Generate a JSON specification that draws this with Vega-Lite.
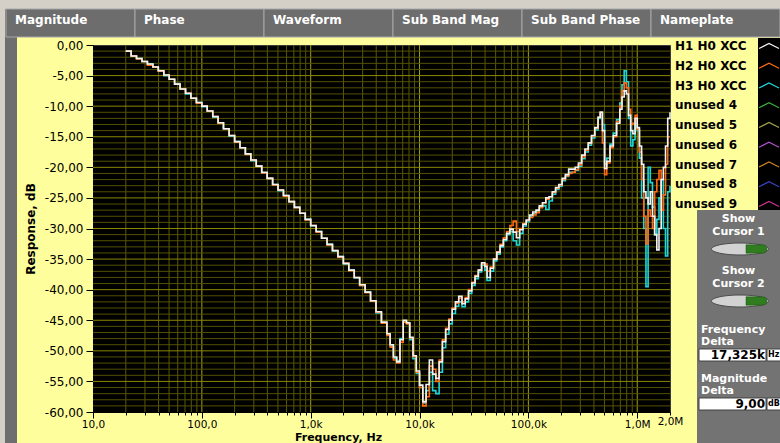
{
"$schema": "https://vega.github.io/schema/vega-lite/v6.json",
"width": 577, "height": 367,
"autosize": {"type": "none"},
"padding": {"left": 93, "top": 45, "right": 110, "bottom": 31},
"background": "#fffe9c",
"config": {"font": "DejaVu Sans", "view": {"fill": "#000000", "stroke": "#3a3a3a", "strokeWidth": 1},
 "axisY": {"values": [-60,-59,-58,-57,-56,-55,-54,-53,-52,-51,-50,-49,-48,-47,-46,-45,-44,-43,-42,-41,-40,-39,-38,-37,-36,-35,-34,-33,-32,-31,-30,-29,-28,-27,-26,-25,-24,-23,-22,-21,-20,-19,-18,-17,-16,-15,-14,-13,-12,-11,-10,-9,-8,-7,-6,-5,-4,-3,-2,-1,0],
      "labelExpr": "datum.value % 5 == 0 ? (datum.value < 0 ? '-' : '') + abs(datum.value) + ',00' : ''",
      "labelFont": "DejaVu Sans", "labelFontSize": 12, "labelColor": "#000000", "labelFlush": false, "labelOverlap": false, "labelPadding": 3,
      "titleFont": "DejaVu Sans", "titleFontSize": 12, "titleFontWeight": "bold", "titleColor": "#000000",
      "titleX": -63, "titleY": 183.5, "titleAngle": 270, "titleBaseline": "middle", "titleAlign": "center",
      "grid": false, "tickColor": "#000000", "tickSize": 4, "domainColor": "#000000"}},
"resolve": {"scale": {"x": "independent", "y": "independent"}},
"layer": [
{"data": {"values": [{}]}, "mark": {"type": "rect", "fill": "#d4d0c8"},
 "encoding": {"x": {"datum": "a", "type": "nominal", "scale": {"range": [-93, 687], "paddingInner": 0, "paddingOuter": 0}, "axis": null},
              "y": {"datum": "a", "type": "nominal", "scale": {"range": [-45, -36], "paddingInner": 0, "paddingOuter": 0}, "axis": null}}},
{"data": {"values": [{}]}, "mark": {"type": "rect", "fill": "#d4d0c8"},
 "encoding": {"x": {"datum": "a", "type": "nominal", "scale": {"range": [-93, -88], "paddingInner": 0, "paddingOuter": 0}, "axis": null},
              "y": {"datum": "a", "type": "nominal", "scale": {"range": [-36, 398], "paddingInner": 0, "paddingOuter": 0}, "axis": null}}},
{"data": {"values": [{}]}, "mark": {"type": "rect", "fill": "#6e6e6e"},
 "encoding": {"x": {"datum": "a", "type": "nominal", "scale": {"range": [-88, -76], "paddingInner": 0, "paddingOuter": 0}, "axis": null},
              "y": {"datum": "a", "type": "nominal", "scale": {"range": [-36, 398], "paddingInner": 0, "paddingOuter": 0}, "axis": null}}},
{"data": {"values": [{}]}, "mark": {"type": "rect", "fill": "#000000"},
 "encoding": {"x": {"datum": "a", "type": "nominal", "scale": {"range": [665, 687], "paddingInner": 0, "paddingOuter": 0}, "axis": null},
              "y": {"datum": "a", "type": "nominal", "scale": {"range": [-7, 165], "paddingInner": 0, "paddingOuter": 0}, "axis": null}}},
{"data": {"values": [{}]}, "mark": {"type": "rect", "fill": "#737373"},
 "encoding": {"x": {"datum": "a", "type": "nominal", "scale": {"range": [604, 687], "paddingInner": 0, "paddingOuter": 0}, "axis": null},
              "y": {"datum": "a", "type": "nominal", "scale": {"range": [165, 398], "paddingInner": 0, "paddingOuter": 0}, "axis": null}}},
{"data": {"values": [{"tab": "Magnitude"}, {"tab": "Phase"}, {"tab": "Waveform"}, {"tab": "Sub Band Mag"}, {"tab": "Sub Band Phase"}, {"tab": "Nameplate"}]},
 "encoding": {"x": {"field": "tab", "type": "nominal", "sort": null, "scale": {"range": [-87, 687], "paddingInner": 0, "paddingOuter": 0}, "axis": null},
              "y": {"datum": "t", "type": "nominal", "scale": {"range": [-36, -8], "paddingInner": 0, "paddingOuter": 0}, "axis": null}},
 "layer": [
  {"mark": {"type": "rect", "fill": "#6d6d6d", "stroke": "#a8a8a8", "strokeWidth": 1}},
  {"mark": {"type": "text", "align": "left", "baseline": "middle", "xOffset": -55.5, "yOffset": -3, "font": "DejaVu Sans", "fontSize": 12, "fontWeight": "bold", "fill": "#ffffff"},
   "encoding": {"text": {"field": "tab"}}}
 ]},
{"layer": [
  {"data": {"values": [{"f":20},{"f":30},{"f":40},{"f":50},{"f":60},{"f":70},{"f":80},{"f":90},{"f":100},{"f":200},{"f":300},{"f":400},{"f":500},{"f":600},{"f":700},{"f":800},{"f":900},{"f":1000},{"f":2000},{"f":3000},{"f":4000},{"f":5000},{"f":6000},{"f":7000},{"f":8000},{"f":9000},{"f":10000},{"f":20000},{"f":30000},{"f":40000},{"f":50000},{"f":60000},{"f":70000},{"f":80000},{"f":90000},{"f":100000},{"f":200000},{"f":300000},{"f":400000},{"f":500000},{"f":600000},{"f":700000},{"f":800000},{"f":900000},{"f":1000000}]},
   "mark": {"type": "rule", "strokeWidth": 1},
   "encoding": {"x": {"field": "f", "type": "quantitative", "title": "Frequency, Hz", "scale": {"type": "log", "domain": [10, 2000000], "nice": false},
     "axis": {"values": [10,20,30,40,50,60,70,80,90,100,200,300,400,500,600,700,800,900,1000,2000,3000,4000,5000,6000,7000,8000,9000,10000,20000,30000,40000,50000,60000,70000,80000,90000,100000,200000,300000,400000,500000,600000,700000,800000,900000,1000000,2000000],
      "labelExpr": "datum.value == 10 ? '10,0' : datum.value == 100 ? '100,0' : datum.value == 1000 ? '1,0k' : datum.value == 10000 ? '10,0k' : datum.value == 100000 ? '100,0k' : datum.value == 1000000 ? '1,0M' : datum.value == 2000000 ? '2,0M' : ''",
      "labelFont": "DejaVu Sans", "labelFontSize": 10.5, "labelColor": "#000000", "labelFlush": false, "labelOverlap": false, "labelPadding": 1,
      "title": "Frequency, Hz", "titleFont": "DejaVu Sans", "titleFontSize": 11, "titleFontWeight": "bold", "titleColor": "#000000",
      "titleX": 245, "titleY": 25.5, "titleBaseline": "middle", "titleAlign": "center",
      "grid": false, "tickColor": "#000000",
      "tickSize": {"condition": {"test": "datum.value == 10 || datum.value == 100 || datum.value == 1000 || datum.value == 10000 || datum.value == 100000 || datum.value == 1000000", "value": 6}, "value": 3},
      "domainColor": "#000000"}},
                "stroke": {"condition": {"test": "datum.f == 100 || datum.f == 1000 || datum.f == 10000 || datum.f == 100000 || datum.f == 1000000", "value": "#a6a200"}, "value": "#5a5900"}}},
  {"data": {"values": [{"db":-59},{"db":-58},{"db":-57},{"db":-56},{"db":-55},{"db":-54},{"db":-53},{"db":-52},{"db":-51},{"db":-50},{"db":-49},{"db":-48},{"db":-47},{"db":-46},{"db":-45},{"db":-44},{"db":-43},{"db":-42},{"db":-41},{"db":-40},{"db":-39},{"db":-38},{"db":-37},{"db":-36},{"db":-35},{"db":-34},{"db":-33},{"db":-32},{"db":-31},{"db":-30},{"db":-29},{"db":-28},{"db":-27},{"db":-26},{"db":-25},{"db":-24},{"db":-23},{"db":-22},{"db":-21},{"db":-20},{"db":-19},{"db":-18},{"db":-17},{"db":-16},{"db":-15},{"db":-14},{"db":-13},{"db":-12},{"db":-11},{"db":-10},{"db":-9},{"db":-8},{"db":-7},{"db":-6},{"db":-5},{"db":-4},{"db":-3},{"db":-2},{"db":-1}]},
   "mark": {"type": "rule", "strokeWidth": 1},
   "encoding": {"y": {"field": "db", "type": "quantitative", "title": "Response, dB", "scale": {"domain": [-60, 0], "nice": false, "zero": false},
     "axis": {"title": "Response, dB", "grid": false,
      "tickSize": {"condition": {"test": "datum.value % 5 == 0", "value": 7}, "value": 4}}},
                "stroke": {"condition": {"test": "datum.db % 5 == 0", "value": "#8a8700"}, "value": "#525100"}}},
  {"data": {"name": "curve", "values": [
{"f":20,"h1":-1.0,"h2":-1.0,"h3":-1.0},
{"f":22.4,"h1":-1.8,"h2":-1.8,"h3":-1.8},
{"f":25.1,"h1":-2.2,"h2":-2.3,"h3":-2.2},
{"f":28.2,"h1":-2.7,"h2":-2.7,"h3":-2.7},
{"f":31.6,"h1":-3.1,"h2":-3.3,"h3":-3.1},
{"f":35.5,"h1":-3.6,"h2":-3.6,"h3":-3.6},
{"f":39.8,"h1":-4.2,"h2":-4.3,"h3":-4.2},
{"f":44.7,"h1":-4.9,"h2":-4.9,"h3":-5.0},
{"f":50.1,"h1":-5.6,"h2":-5.6,"h3":-5.6},
{"f":56.2,"h1":-6.4,"h2":-6.4,"h3":-6.3},
{"f":63.1,"h1":-7.2,"h2":-7.2,"h3":-7.2},
{"f":70.8,"h1":-7.9,"h2":-7.9,"h3":-8.0},
{"f":79.4,"h1":-8.7,"h2":-8.7,"h3":-8.7},
{"f":89.1,"h1":-9.4,"h2":-9.5,"h3":-9.4},
{"f":100,"h1":-10.0,"h2":-10.0,"h3":-10.1},
{"f":112,"h1":-10.8,"h2":-10.8,"h3":-10.8},
{"f":126,"h1":-11.7,"h2":-11.7,"h3":-11.8},
{"f":141,"h1":-12.7,"h2":-12.8,"h3":-12.7},
{"f":158,"h1":-13.7,"h2":-13.7,"h3":-13.7},
{"f":178,"h1":-14.8,"h2":-14.8,"h3":-14.9},
{"f":200,"h1":-15.8,"h2":-15.9,"h3":-15.8},
{"f":224,"h1":-16.8,"h2":-16.8,"h3":-16.8},
{"f":251,"h1":-17.8,"h2":-17.9,"h3":-17.8},
{"f":282,"h1":-18.8,"h2":-18.8,"h3":-18.9},
{"f":316,"h1":-19.8,"h2":-19.8,"h3":-19.8},
{"f":355,"h1":-20.8,"h2":-20.9,"h3":-20.9},
{"f":398,"h1":-21.8,"h2":-21.8,"h3":-21.8},
{"f":447,"h1":-22.8,"h2":-22.9,"h3":-22.8},
{"f":501,"h1":-23.7,"h2":-23.7,"h3":-23.8},
{"f":562,"h1":-24.6,"h2":-24.7,"h3":-24.6},
{"f":631,"h1":-25.6,"h2":-25.6,"h3":-25.6},
{"f":708,"h1":-26.5,"h2":-26.6,"h3":-26.6},
{"f":794,"h1":-27.5,"h2":-27.5,"h3":-27.5},
{"f":891,"h1":-28.5,"h2":-28.6,"h3":-28.5},
{"f":1000,"h1":-29.5,"h2":-29.5,"h3":-29.6},
{"f":1122,"h1":-30.5,"h2":-30.6,"h3":-30.5},
{"f":1259,"h1":-31.6,"h2":-31.6,"h3":-31.6},
{"f":1413,"h1":-32.6,"h2":-32.7,"h3":-32.6},
{"f":1585,"h1":-33.6,"h2":-33.6,"h3":-33.7},
{"f":1778,"h1":-34.6,"h2":-34.7,"h3":-34.6},
{"f":1995,"h1":-35.7,"h2":-35.7,"h3":-35.8},
{"f":2239,"h1":-36.8,"h2":-36.9,"h3":-36.8},
{"f":2512,"h1":-38.0,"h2":-38.0,"h3":-38.1},
{"f":2818,"h1":-39.2,"h2":-39.3,"h3":-39.3},
{"f":3162,"h1":-40.4,"h2":-40.5,"h3":-40.4},
{"f":3548,"h1":-41.8,"h2":-41.9,"h3":-41.9},
{"f":3981,"h1":-43.6,"h2":-43.7,"h3":-43.8},
{"f":4467,"h1":-45.3,"h2":-45.5,"h3":-45.4},
{"f":5012,"h1":-47.2,"h2":-47.5,"h3":-47.4},
{"f":5370,"h1":-49.0,"h2":-49.4,"h3":-49.2},
{"f":5754,"h1":-51.0,"h2":-51.5,"h3":-51.2},
{"f":6166,"h1":-51.8,"h2":-52.0,"h3":-51.6},
{"f":6607,"h1":-48.2,"h2":-48.6,"h3":-48.0},
{"f":7079,"h1":-45.0,"h2":-45.3,"h3":-45.2},
{"f":7586,"h1":-45.4,"h2":-45.6,"h3":-45.5},
{"f":8128,"h1":-47.8,"h2":-47.9,"h3":-48.2},
{"f":8710,"h1":-50.8,"h2":-50.9,"h3":-51.3},
{"f":9333,"h1":-53.3,"h2":-53.5,"h3":-53.7},
{"f":10000,"h1":-55.6,"h2":-56.0,"h3":-56.0},
{"f":10715,"h1":-58.3,"h2":-59.0,"h3":-58.5},
{"f":11482,"h1":-55.5,"h2":-57.5,"h3":-56.5},
{"f":12303,"h1":-51.5,"h2":-52.5,"h3":-53.5},
{"f":13183,"h1":-53.8,"h2":-53.0,"h3":-56.5},
{"f":14125,"h1":-54.5,"h2":-55.0,"h3":-57.0},
{"f":15136,"h1":-51.8,"h2":-51.5,"h3":-53.5},
{"f":16218,"h1":-48.5,"h2":-48.2,"h3":-49.5},
{"f":17378,"h1":-46.5,"h2":-46.3,"h3":-47.3},
{"f":18621,"h1":-45.0,"h2":-44.8,"h3":-45.6},
{"f":19953,"h1":-43.2,"h2":-43.0,"h3":-43.9},
{"f":21380,"h1":-42.0,"h2":-42.2,"h3":-42.7},
{"f":22909,"h1":-41.1,"h2":-41.4,"h3":-42.0},
{"f":24547,"h1":-42.3,"h2":-42.0,"h3":-42.8},
{"f":26303,"h1":-41.5,"h2":-41.3,"h3":-42.0},
{"f":28184,"h1":-40.2,"h2":-40.0,"h3":-40.6},
{"f":30200,"h1":-38.9,"h2":-38.8,"h3":-39.3},
{"f":32359,"h1":-37.8,"h2":-37.7,"h3":-38.2},
{"f":34674,"h1":-36.8,"h2":-36.8,"h3":-37.1},
{"f":37154,"h1":-35.6,"h2":-35.8,"h3":-36.0},
{"f":39811,"h1":-36.2,"h2":-35.8,"h3":-36.8},
{"f":41687,"h1":-38.0,"h2":-37.0,"h3":-38.5},
{"f":44668,"h1":-36.5,"h2":-36.3,"h3":-37.0},
{"f":47863,"h1":-35.0,"h2":-35.0,"h3":-35.3},
{"f":51286,"h1":-33.9,"h2":-33.8,"h3":-34.2},
{"f":54954,"h1":-32.8,"h2":-32.6,"h3":-33.0},
{"f":58884,"h1":-31.8,"h2":-31.5,"h3":-32.0},
{"f":63096,"h1":-30.8,"h2":-30.5,"h3":-31.0},
{"f":67608,"h1":-30.1,"h2":-29.5,"h3":-30.5},
{"f":72444,"h1":-30.6,"h2":-28.8,"h3":-32.0},
{"f":77625,"h1":-31.5,"h2":-30.5,"h3":-32.7},
{"f":83176,"h1":-30.2,"h2":-30.0,"h3":-30.8},
{"f":89125,"h1":-29.3,"h2":-29.2,"h3":-29.6},
{"f":95499,"h1":-28.6,"h2":-28.7,"h3":-28.9},
{"f":102329,"h1":-27.8,"h2":-28.2,"h3":-28.0},
{"f":109648,"h1":-27.3,"h2":-27.8,"h3":-27.6},
{"f":117490,"h1":-27.0,"h2":-27.4,"h3":-27.3},
{"f":125893,"h1":-26.3,"h2":-26.6,"h3":-26.5},
{"f":134896,"h1":-25.8,"h2":-25.8,"h3":-26.3},
{"f":144544,"h1":-25.0,"h2":-25.2,"h3":-26.9},
{"f":154882,"h1":-24.8,"h2":-24.8,"h3":-25.5},
{"f":165959,"h1":-24.0,"h2":-24.1,"h3":-24.4},
{"f":177828,"h1":-23.3,"h2":-23.4,"h3":-23.6},
{"f":190546,"h1":-22.8,"h2":-22.9,"h3":-23.1},
{"f":204174,"h1":-21.8,"h2":-22.0,"h3":-22.2},
{"f":218776,"h1":-21.2,"h2":-21.4,"h3":-21.5},
{"f":234423,"h1":-20.3,"h2":-21.0,"h3":-20.8},
{"f":251189,"h1":-20.3,"h2":-20.8,"h3":-20.8},
{"f":269153,"h1":-20.0,"h2":-20.4,"h3":-20.5},
{"f":288403,"h1":-19.3,"h2":-19.6,"h3":-19.8},
{"f":309030,"h1":-18.0,"h2":-18.3,"h3":-18.6},
{"f":331131,"h1":-17.0,"h2":-17.2,"h3":-17.5},
{"f":354813,"h1":-16.0,"h2":-16.1,"h3":-16.4},
{"f":380189,"h1":-14.8,"h2":-14.9,"h3":-15.2},
{"f":407380,"h1":-13.5,"h2":-13.6,"h3":-13.9},
{"f":436516,"h1":-11.8,"h2":-11.8,"h3":-12.0},
{"f":457088,"h1":-11.0,"h2":-11.0,"h3":-11.0},
{"f":478630,"h1":-14.0,"h2":-16.0,"h3":-13.0},
{"f":501187,"h1":-20.2,"h2":-21.2,"h3":-19.5},
{"f":524807,"h1":-19.0,"h2":-19.3,"h3":-18.5},
{"f":562341,"h1":-16.5,"h2":-16.8,"h3":-16.2},
{"f":602560,"h1":-14.8,"h2":-15.0,"h3":-14.4},
{"f":645654,"h1":-12.8,"h2":-12.5,"h3":-12.2},
{"f":691831,"h1":-10.5,"h2":-10.0,"h3":-9.5},
{"f":724436,"h1":-8.5,"h2":-7.5,"h3":-6.5},
{"f":758578,"h1":-7.5,"h2":-6.2,"h3":-4.2},
{"f":794328,"h1":-8.0,"h2":-7.0,"h3":-6.0},
{"f":831764,"h1":-11.5,"h2":-10.5,"h3":-12.0},
{"f":870964,"h1":-14.0,"h2":-13.0,"h3":-16.5},
{"f":912011,"h1":-14.5,"h2":-12.8,"h3":-15.5},
{"f":954993,"h1":-12.0,"h2":-11.5,"h3":-12.8},
{"f":1000000,"h1":-13.5,"h2":-13.8,"h3":-14.0},
{"f":1047129,"h1":-16.5,"h2":-17.5,"h3":-18.5},
{"f":1096478,"h1":-19.5,"h2":-22.0,"h3":-25.0},
{"f":1148154,"h1":-24.0,"h2":-28.0,"h3":-30.0},
{"f":1202264,"h1":-25.0,"h2":-32.5,"h3":-39.5},
{"f":1258925,"h1":-26.0,"h2":-27.0,"h3":-20.0},
{"f":1318257,"h1":-24.0,"h2":-28.0,"h3":-22.5},
{"f":1380384,"h1":-28.0,"h2":-30.0,"h3":-26.5},
{"f":1445440,"h1":-31.0,"h2":-24.0,"h3":-31.0},
{"f":1513561,"h1":-33.5,"h2":-22.0,"h3":-28.5},
{"f":1584893,"h1":-30.0,"h2":-20.5,"h3":-25.0},
{"f":1659587,"h1":-22.0,"h2":-27.0,"h3":-22.0},
{"f":1737801,"h1":-20.0,"h2":-24.5,"h3":-30.0},
{"f":1819701,"h1":-16.5,"h2":-19.5,"h3":-34.5},
{"f":1905461,"h1":-12.0,"h2":-15.0,"h3":-24.0},
{"f":2000000,"h1":-11.0,"h2":-15.0,"h3":-23.0}
]},
   "mark": {"type": "line", "interpolate": "step-after", "strokeWidth": 1.6},
   "encoding": {
    "x": {"field": "f", "type": "quantitative", "title": "Frequency, Hz", "scale": {"type": "log", "domain": [10, 2000000], "nice": false}},
    "y": {"field": "h3", "type": "quantitative", "title": "Response, dB", "scale": {"domain": [-60, 0], "nice": false, "zero": false}},
    "color": {"datum": "H3 H0 XCC", "type": "nominal",
     "scale": {"domain": ["H1 H0 XCC", "H2 H0 XCC", "H3 H0 XCC", "unused 4", "unused 5", "unused 6", "unused 7", "unused 8", "unused 9"],
               "range": ["#f2f2f2", "#ff6a13", "#1ed8d8", "#3caf3c", "#a5a54a", "#b24fcb", "#c8821e", "#3a44c6", "#c8358e"]},
     "legend": {"orient": "none", "legendX": 581, "legendY": -10, "title": null, "padding": 0,
      "labelFont": "DejaVu Sans", "labelFontSize": 12, "labelFontWeight": "bold", "labelColor": "#000000", "labelLimit": 300,
      "symbolType": "M-1,0.25L0,-0.25L1,0.25", "symbolSize": 400, "symbolStrokeWidth": 1.2, "symbolFillColor": "transparent",
      "symbolOffset": 84, "labelOffset": -105, "rowPadding": 2.75}}}},
  {"data": {"name": "curve"},
   "mark": {"type": "line", "interpolate": "step-after", "strokeWidth": 1.6},
   "encoding": {
    "x": {"field": "f", "type": "quantitative", "title": "Frequency, Hz", "scale": {"type": "log", "domain": [10, 2000000], "nice": false}},
    "y": {"field": "h2", "type": "quantitative", "title": "Response, dB", "scale": {"domain": [-60, 0], "nice": false, "zero": false}},
    "color": {"datum": "H2 H0 XCC", "type": "nominal"}}},
  {"data": {"name": "curve"},
   "mark": {"type": "line", "interpolate": "step-after", "strokeWidth": 1.6},
   "encoding": {
    "x": {"field": "f", "type": "quantitative", "title": "Frequency, Hz", "scale": {"type": "log", "domain": [10, 2000000], "nice": false}},
    "y": {"field": "h1", "type": "quantitative", "title": "Response, dB", "scale": {"domain": [-60, 0], "nice": false, "zero": false}},
    "color": {"datum": "H1 H0 XCC", "type": "nominal"}}}
 ]},
{"data": {"values": [{"cursor": "Cursor 1"}, {"cursor": "Cursor 2"}]},
 "encoding": {"x": {"datum": "c", "type": "nominal", "scale": {"range": [604, 687], "paddingInner": 0, "paddingOuter": 0}, "axis": null},
              "y": {"field": "cursor", "type": "nominal", "sort": null, "scale": {"range": [165, 269], "paddingInner": 0, "paddingOuter": 0}, "axis": null}},
 "layer": [
  {"mark": {"type": "text", "text": "Show", "align": "center", "baseline": "middle", "yOffset": -17, "font": "DejaVu Sans", "fontSize": 11, "fontWeight": "bold", "fill": "#ffffff"}},
  {"mark": {"type": "text", "align": "center", "baseline": "middle", "yOffset": -4, "font": "DejaVu Sans", "fontSize": 11, "fontWeight": "bold", "fill": "#ffffff"},
   "encoding": {"text": {"field": "cursor"}}},
  {"mark": {"type": "point", "shape": "M-1,0A1,0.21 0 1,1 1,0A1,0.21 0 1,1 -1,0Z", "size": 3249, "filled": true, "fill": "#d2d2d2", "stroke": "#4a4a4a", "strokeWidth": 1, "opacity": 1, "xOffset": 1.5, "yOffset": 13}},
  {"mark": {"type": "point", "shape": "M-1,-0.4L0.5,-0.4Q1,-0.4 1,0Q1,0.4 0.5,0.4L-1,0.4Z", "size": 441, "filled": true, "fill": "#2f7d1f", "stroke": "#1d4d12", "strokeWidth": 0.5, "opacity": 1, "xOffset": 18, "yOffset": 13}}
 ]},
{"data": {"values": [{"name": "Frequency", "value": "17,325k", "unit": "Hz"}, {"name": "Magnitude", "value": "9,00", "unit": "dB"}]},
 "encoding": {"x": {"datum": "d", "type": "nominal", "scale": {"range": [604, 687], "paddingInner": 0, "paddingOuter": 0}, "axis": null},
              "y": {"field": "name", "type": "nominal", "sort": null, "scale": {"range": [269, 367], "paddingInner": 0, "paddingOuter": 0}, "axis": null}},
 "layer": [
  {"mark": {"type": "text", "align": "left", "baseline": "middle", "xOffset": -37.5, "yOffset": -8.5, "font": "DejaVu Sans", "fontSize": 11, "fontWeight": "bold", "fill": "#ffffff"},
   "encoding": {"text": {"field": "name"}}},
  {"mark": {"type": "text", "text": "Delta", "align": "left", "baseline": "middle", "xOffset": -37.5, "yOffset": 3.5, "font": "DejaVu Sans", "fontSize": 11, "fontWeight": "bold", "fill": "#ffffff"}},
  {"mark": {"type": "point", "shape": "M-1,-0.18H1V0.18H-1Z", "size": 4489, "filled": true, "fill": "#ffffff", "stroke": "#404040", "strokeWidth": 1, "opacity": 1, "xOffset": -6, "yOffset": 16.5}},
  {"mark": {"type": "point", "shape": "M-1,-0.6H1V0.6H-1Z", "size": 400, "filled": true, "fill": "#ffffff", "stroke": "#404040", "strokeWidth": 1, "opacity": 1, "xOffset": 38.5, "yOffset": 16.5}},
  {"mark": {"type": "text", "align": "right", "baseline": "middle", "xOffset": 26.5, "yOffset": 16.5, "font": "DejaVu Sans", "fontSize": 12, "fontWeight": "bold", "fill": "#000000"},
   "encoding": {"text": {"field": "value"}}},
  {"mark": {"type": "text", "align": "left", "baseline": "middle", "xOffset": 29.5, "yOffset": 16.5, "font": "DejaVu Sans", "fontSize": 8, "fontWeight": "bold", "fill": "#000000"},
   "encoding": {"text": {"field": "unit"}}}
 ]}
]
}
